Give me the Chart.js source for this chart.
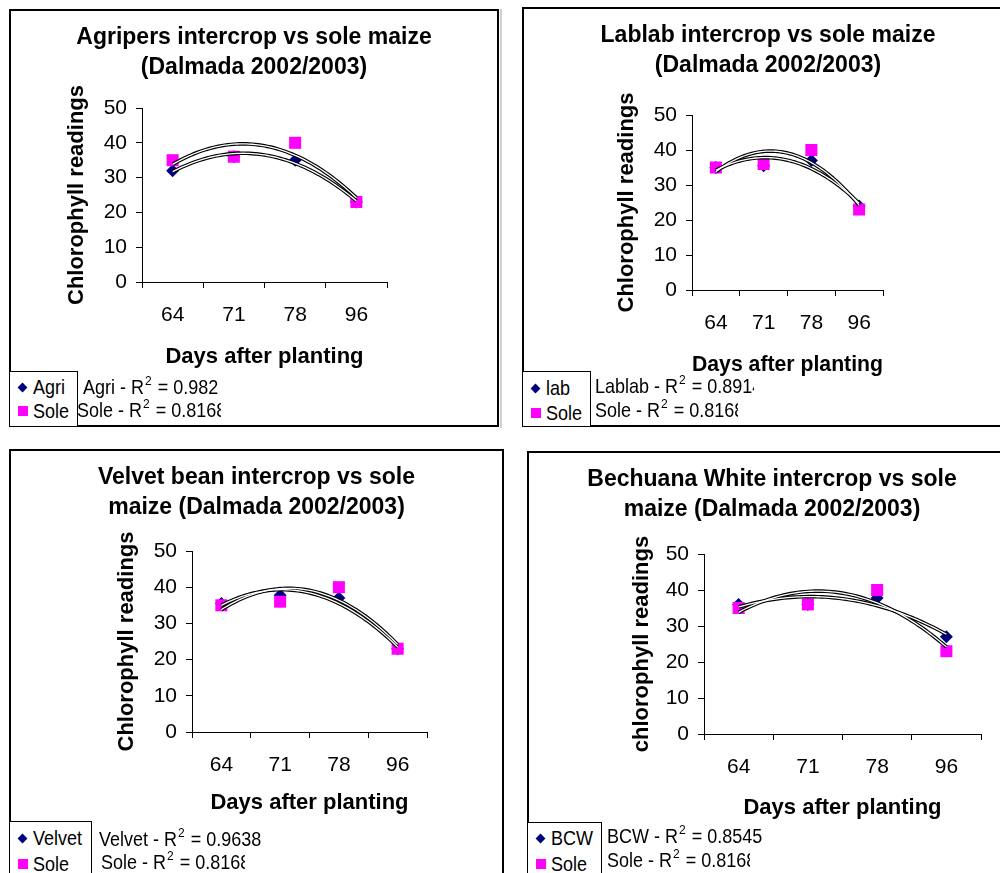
<!DOCTYPE html>
<html>
<head>
<meta charset="utf-8">
<script src="https://cdn.jsdelivr.net/npm/chart.js@4.4.1/dist/chart.umd.min.js"></script>
<style>
  body { margin: 0; width: 1000px; height: 873px; overflow: hidden; background: #fff; position: relative;
         font-family: "Liberation Sans", Arial, sans-serif; color: #000; }
  canvas { position: absolute; }
  .frame { position: absolute; border: 2px solid #000; box-sizing: border-box; pointer-events: none; }
  .legbox { position: absolute; border: 1.5px solid #000; box-sizing: border-box; background: #fff; }
  .entry, .r2 { position: absolute; font-size: 18px; line-height: 20px; white-space: nowrap;
                transform: scaleY(1.12); transform-origin: left center; }
  .r2 { overflow: hidden; }
  .diamond { position: absolute; width: 7px; height: 7px; background: #000080; transform: rotate(45deg); }
  .square { position: absolute; width: 10px; height: 10px; background: #ff00ff; }
  .r2 sup { font-size: 12px; line-height: 0; position: relative; top: -1px; margin: 0 1px; }
</style>
</head>
<body>
<script>
// ---- data ----
const days = ['64', '71', '78', '96'];
const soleMaize = [35, 36, 40, 23];
const agripers = [32, 36, 35, 23];
const lablab = [35, 35.5, 37, 24];
const velvetBean = [35.5, 37.8, 37, 23];
const bechuanaWhite = [36, 36, 37.8, 27];
const cropSeries = [agripers, lablab, velvetBean, bechuanaWhite];

const yMin = 0, yMax = 50, yStep = 10;

const cropNames = ['Agri', 'lab', 'Velvet', 'BCW'];
const trendNames = ['Agri', 'Lablab', 'Velvet', 'BCW'];
const cropR2 = ['0.982', '0.8914', '0.9638', '0.8545'];
const soleName = 'Sole';
const soleR2 = '0.8168';

const titles = [
  ['Agripers intercrop vs sole maize', '(Dalmada 2002/2003)'],
  ['Lablab intercrop vs sole maize', '(Dalmada 2002/2003)'],
  ['Velvet bean intercrop vs sole', 'maize (Dalmada 2002/2003)'],
  ['Bechuana White intercrop vs sole', 'maize (Dalmada 2002/2003)']
];
const yTitles = ['Chlorophyll readings', 'Chlorophyll readings', 'Chlorophyll readings', 'chlorophyll readings'];
const xTitle = 'Days after planting';

// ---- page layout of the four panels (page pixels) ----
const panels = [
  { frame: {l: 9, t: 9, r: 499, b: 427}, area: {l: 142, t: 108, r: 387, b: 282},
    titleY: 38, yTitleX: 77, xTitleY: 357,
    legend: {l: 9, t: 371, r: 78, b: 427, y1: 387, y2: 411},
    r2: {x1: 83, x2: 77, y1: 387, y2: 410, clip1: null, clip2: 221} },
  { frame: {l: 522, t: 7, r: 1014, b: 427}, area: {l: 692, t: 115, r: 883, b: 290},
    titleY: 36, yTitleX: 627, xTitleY: 365,
    legend: {l: 522, t: 371, r: 591, b: 427, y1: 388, y2: 413},
    r2: {x1: 595, x2: 595, y1: 386, y2: 410, clip1: 754, clip2: 738} },
  { frame: {l: 9, t: 449, r: 504, b: 885}, area: {l: 192, t: 551, r: 427, b: 732},
    titleY: 478, yTitleX: 127, xTitleY: 803,
    legend: {l: 9, t: 821, r: 92, b: 885, y1: 838, y2: 864},
    r2: {x1: 99, x2: 101, y1: 839, y2: 862, clip1: null, clip2: 245} },
  { frame: {l: 527, t: 451, r: 1017, b: 885}, area: {l: 704, t: 554, r: 981, b: 734},
    titleY: 480, yTitleX: 642, xTitleY: 808,
    legend: {l: 527, t: 822, r: 602, b: 885, y1: 838, y2: 864},
    r2: {x1: 607, x2: 607, y1: 836, y2: 860, clip1: null, clip2: 750} }
];

const FONT = '"Liberation Sans", Arial, sans-serif';

// Excel-style order 2 polynomial trendline (least squares over category positions)
function fitQuadratic(ys) {
  const s = [0, 0, 0, 0, 0], t = [0, 0, 0];
  ys.forEach((y, x) => {
    for (let k = 0; k < 5; k++) s[k] += x ** k;
    for (let k = 0; k < 3; k++) t[k] += y * x ** k;
  });
  const m = [[s[0], s[1], s[2], t[0]], [s[1], s[2], s[3], t[1]], [s[2], s[3], s[4], t[2]]];
  for (let i = 0; i < 3; i++) {
    for (let j = i + 1; j < 3; j++) {
      const f = m[j][i] / m[i][i];
      for (let k = i; k < 4; k++) m[j][k] -= f * m[i][k];
    }
  }
  const c = [0, 0, 0];
  for (let i = 2; i >= 0; i--) {
    let v = m[i][3];
    for (let k = i + 1; k < 3; k++) v -= m[i][k] * c[k];
    c[i] = v / m[i][i];
  }
  return x => c[0] + c[1] * x + c[2] * x * x;
}

function trendPoints(ys) {
  const f = fitQuadratic(ys);
  const pts = [];
  const steps = 60;
  for (let i = 0; i <= steps; i++) {
    const x = i * (ys.length - 1) / steps;
    pts.push({x, y: f(x)});
  }
  return pts;
}

const toPoints = ys => ys.map((y, i) => ({x: i, y}));

function trendDataset(ys, color, width) {
  return {
    data: trendPoints(ys), showLine: true, borderColor: color, borderWidth: width,
    pointRadius: 0, tension: 0, xAxisID: 'xv', yAxisID: 'y'
  };
}

function addDiv(cls, style, html) {
  const d = document.createElement('div');
  d.className = cls;
  Object.assign(d.style, style);
  if (html) d.innerHTML = html;
  document.body.appendChild(d);
  return d;
}

function makePanel(idx) {
  const p = panels[idx];
  const W = p.frame.r - p.frame.l, H = p.frame.b - p.frame.t;
  const al = p.area.l - p.frame.l, at = p.area.t - p.frame.t;
  const ar = p.area.r - p.frame.l, ab = p.area.b - p.frame.t;

  const canvas = document.createElement('canvas');
  canvas.width = W; canvas.height = H;
  canvas.style.left = p.frame.l + 'px';
  canvas.style.top = p.frame.t + 'px';
  document.body.appendChild(canvas);

  const titleLH = 30;
  const titlePadTop = (p.titleY - p.frame.t) - titleLH / 2;
  const titlePadBottom = at - titlePadTop - 2 * titleLH;
  const axisTitleLH = 22 * 1.2;

  const crop = cropSeries[idx];

  new Chart(canvas, {
    type: 'scatter',
    data: {
      labels: days,
      datasets: [
        trendDataset(soleMaize, '#fff', 1.3),
        trendDataset(crop, '#fff', 1.3),
        trendDataset(soleMaize, '#000', 3.6),
        trendDataset(crop, '#000', 3.6),
        { data: toPoints(soleMaize), pointStyle: 'rect', pointRadius: 8.5, backgroundColor: '#ff00ff',
          borderColor: '#ff00ff', borderWidth: 0, xAxisID: 'xv', yAxisID: 'y' },
        { data: toPoints(crop), pointStyle: 'rectRot', pointRadius: 6.5, backgroundColor: '#000080',
          borderColor: '#000080', borderWidth: 0, xAxisID: 'xv', yAxisID: 'y' }
      ]
    },
    options: {
      responsive: false,
      animation: false,
      events: [],
      layout: { autoPadding: false, padding: 0 },
      plugins: {
        legend: { display: false },
        tooltip: { enabled: false },
        title: {
          display: true, text: titles[idx], color: '#000',
          font: { family: FONT, size: 23, weight: 'bold', lineHeight: titleLH + 'px' },
          padding: { top: titlePadTop, bottom: titlePadBottom }
        }
      },
      scales: {
        y: {
          type: 'linear', position: 'left', min: yMin, max: yMax,
          ticks: { stepSize: yStep, color: '#000', font: { family: FONT, size: 21 }, padding: 9 },
          grid: { drawOnChartArea: false, drawTicks: true, tickLength: 6, tickColor: '#000', color: '#000' },
          border: { display: true, color: '#000', width: 1 },
          title: { display: true, text: yTitles[idx], color: '#000',
                   font: { family: FONT, size: 22, weight: 'bold', lineHeight: 1.2 },
                   padding: { top: (p.yTitleX - p.frame.l) - axisTitleLH / 2, bottom: 0 } },
          afterFit: s => { s.width = al; }
        },
        x: {
          type: 'category', position: 'bottom', offset: true,
          ticks: { color: '#000', font: { family: FONT, size: 21 }, padding: 15, autoSkip: false, maxRotation: 0 },
          grid: { offset: true, drawOnChartArea: false, drawTicks: true, tickLength: 6, tickColor: '#000', color: '#000' },
          border: { display: true, color: '#000', width: 1 },
          title: { display: true, text: xTitle, color: '#000',
                   font: { family: FONT, size: 22, weight: 'bold', lineHeight: 1.2 },
                   padding: { top: 0, bottom: H - (p.xTitleY - p.frame.t) - axisTitleLH / 2 } },
          afterFit: s => { s.height = H - ab; }
        },
        xv: { type: 'linear', position: 'bottom', display: false, min: -0.5, max: days.length - 0.5 },
        pad: {
          type: 'linear', position: 'right', display: true,
          ticks: { display: false }, grid: { display: false }, border: { display: false },
          afterFit: s => { s.width = W - ar; }
        }
      }
    }
  });

  // frame
  addDiv('frame', { left: p.frame.l + 'px', top: p.frame.t + 'px', width: W + 'px', height: H + 'px' });

  // legend box (series markers)
  const lg = p.legend;
  addDiv('legbox', { left: lg.l + 'px', top: lg.t + 'px', width: (lg.r - lg.l) + 'px', height: (lg.b - lg.t) + 'px' });
  addDiv('diamond', { left: (lg.l + 10) + 'px', top: (lg.y1 - 3.5) + 'px' });
  addDiv('entry', { left: (lg.l + 24) + 'px', top: (lg.y1 - 10) + 'px' }, cropNames[idx]);
  addDiv('square', { left: (lg.l + 9) + 'px', top: (lg.y2 - 5) + 'px' });
  addDiv('entry', { left: (lg.l + 24) + 'px', top: (lg.y2 - 10) + 'px' }, soleName);

  // trendline labels, clipped like the original
  const r = p.r2;
  const line1 = addDiv('r2', { left: r.x1 + 'px', top: (r.y1 - 10) + 'px' },
         `${trendNames[idx]} - R<sup>2</sup> = ${cropR2[idx]}`);
  if (r.clip1) line1.style.width = (r.clip1 - r.x1) + 'px';
  addDiv('r2', { left: r.x2 + 'px', top: (r.y2 - 10) + 'px', width: (r.clip2 - r.x2) + 'px' },
         `${soleName} - R<sup>2</sup> = ${soleR2}`);
}

panels.forEach((p, i) => makePanel(i));

// thin grey edge seen between the two top panels
addDiv('', { position: 'absolute', left: '500px', top: '9px', width: '2px', height: '419px', background: '#d0d0d0' });
</script>
</body>
</html>
